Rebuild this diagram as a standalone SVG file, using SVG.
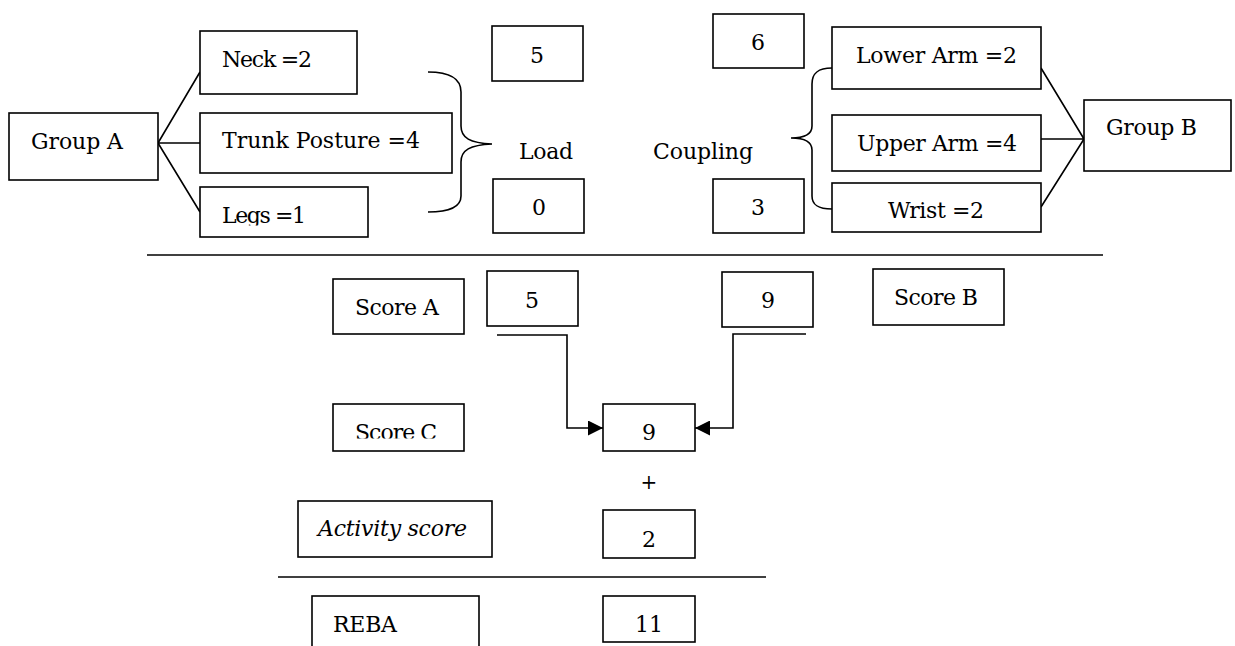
<svg xmlns="http://www.w3.org/2000/svg" width="1235" height="646" viewBox="0 0 1235 646">
<style>
.box{fill:#fff;stroke:#000;stroke-width:1.6}
.ln{fill:none;stroke:#000;stroke-width:1.6}
text{font-family:"DejaVu Serif","Liberation Serif",serif;font-size:22px;fill:#000}
.c{text-anchor:middle}
.it{font-style:italic}
</style>
<defs>
<marker id="ah" viewBox="0 0 10 10" refX="10" refY="5" markerWidth="15" markerHeight="15" markerUnits="userSpaceOnUse" orient="auto">
<path d="M0,0 L10,5 L0,10 Z" fill="#000"/>
</marker>
<clipPath id="clipLegs"><rect x="200" y="187" width="168" height="38.5"/></clipPath>
<clipPath id="clipC"><rect x="333" y="404" width="131" height="34.5"/></clipPath>
</defs>
<rect width="1235" height="646" fill="#fff"/>
<g id="connectors">
<path class="ln" d="M158,143 L200,72 M158,143 L200,143 M158,143 L200,212"/>
<path class="ln" d="M1041,68 L1084,139 M1041,139 L1084,139 M1041,207 L1084,139"/>
<path class="ln" d="M428,72 C450,72 461,78 461,92 L461,126 C461,138 470,143 492,144 C470,145 461,150 461,162 L461,196 C461,207 450,212 428,212"/>
<path class="ln" d="M832,68 C818,68 812,73 812,84 L812,126 C812,134 806,138 791,138 C806,138 812,142 812,150 L812,196 C812,205 818,209 832,209"/>
<line class="ln" x1="147" y1="255" x2="1103" y2="255"/>
<line class="ln" x1="278" y1="577" x2="766" y2="577"/>
<path class="ln" d="M497,335 H567 V428 H603" marker-end="url(#ah)"/>
<path class="ln" d="M806,334 H733 V428 H695" marker-end="url(#ah)"/>
</g>
<g id="groupA"><rect class="box" x="9" y="113" width="149" height="67"/><text x="31" y="149" textLength="92">Group A</text></g>
<g id="neck"><rect class="box" x="200" y="31" width="157" height="63"/><text x="222" y="67" textLength="90">Neck =2</text></g>
<g id="trunk"><rect class="box" x="200" y="113" width="252" height="60"/><text x="222" y="148" textLength="198">Trunk Posture =4</text></g>
<g id="legs"><rect class="box" x="200" y="187" width="168" height="50"/><text x="222" y="223" textLength="84" clip-path="url(#clipLegs)">Legs =1</text></g>
<g id="load5"><rect class="box" x="492" y="26" width="91" height="55"/><text class="c" x="537" y="63">5</text></g>
<g id="load"><text x="519" y="159" textLength="54">Load</text></g>
<g id="load0"><rect class="box" x="493" y="179" width="91" height="54"/><text class="c" x="539" y="215">0</text></g>
<g id="coupling"><text x="653" y="159" textLength="100">Coupling</text></g>
<g id="coup6"><rect class="box" x="713" y="14" width="91" height="54"/><text class="c" x="758" y="50">6</text></g>
<g id="coup3"><rect class="box" x="713" y="179" width="91" height="54"/><text class="c" x="758" y="215">3</text></g>
<g id="lowerArm"><rect class="box" x="832" y="27" width="209" height="62"/><text x="856" y="63" textLength="161">Lower Arm =2</text></g>
<g id="upperArm"><rect class="box" x="832" y="115" width="209" height="56"/><text x="857" y="151" textLength="160">Upper Arm =4</text></g>
<g id="wrist"><rect class="box" x="832" y="183" width="209" height="49"/><text x="888" y="218" textLength="96">Wrist =2</text></g>
<g id="groupB"><rect class="box" x="1084" y="100" width="147" height="71"/><text x="1106" y="135" textLength="91">Group B</text></g>
<g id="scoreA"><rect class="box" x="333" y="279" width="131" height="55"/><text x="355" y="315" textLength="84">Score A</text></g>
<g id="scoreA5"><rect class="box" x="487" y="271" width="91" height="55"/><text class="c" x="532" y="308">5</text></g>
<g id="scoreB9"><rect class="box" x="722" y="272" width="91" height="55"/><text class="c" x="768" y="308">9</text></g>
<g id="scoreB"><rect class="box" x="873" y="269" width="131" height="56"/><text x="894" y="305" textLength="84">Score B</text></g>
<g id="scoreC"><rect class="box" x="333" y="404" width="131" height="47"/><text x="355" y="439.5" textLength="82" clip-path="url(#clipC)">Score C</text></g>
<g id="scoreC9"><rect class="box" x="603" y="404" width="92" height="47"/><text class="c" x="649" y="440">9</text></g>
<g id="plus"><text class="c" x="649" y="489" style="font-size:20px">+</text></g>
<g id="activity"><rect class="box" x="298" y="501" width="194" height="56"/><text class="it" x="318" y="536" textLength="149">Activity score</text></g>
<g id="activity2"><rect class="box" x="603" y="510" width="92" height="48"/><text class="c" x="649" y="547">2</text></g>
<g id="reba"><rect class="box" x="312" y="596" width="167" height="60"/><text x="333" y="632" textLength="64">REBA</text></g>
<g id="reba11"><rect class="box" x="603" y="596" width="92" height="46"/><text class="c" x="649" y="632">11</text></g>
</svg>
